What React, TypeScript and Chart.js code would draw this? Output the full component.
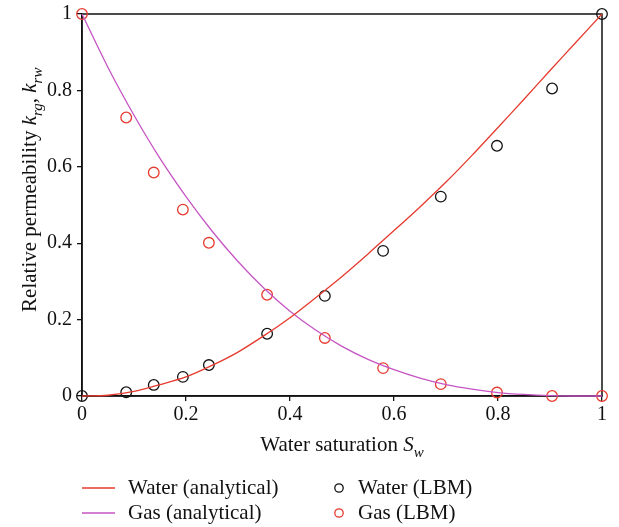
import React, { useEffect, useRef } from "react";
import { Chart, registerables } from "chart.js";

Chart.register(...registerables);

// Analytical relative-permeability curves, sampled along water saturation
const curveSaturation = [0, 0.05, 0.1, 0.15, 0.2, 0.25, 0.3, 0.35, 0.4, 0.45, 0.5, 0.55, 0.6, 0.65, 0.7, 0.75, 0.8, 0.85, 0.9, 0.95, 1];
const waterAnalytical = [0, 0.002, 0.012, 0.03, 0.05, 0.08, 0.115, 0.158, 0.205, 0.258, 0.313, 0.372, 0.433, 0.495, 0.56, 0.63, 0.703, 0.777, 0.852, 0.926, 1];
const gasAnalytical = [1, 0.86, 0.735, 0.622, 0.522, 0.432, 0.352, 0.282, 0.222, 0.172, 0.13, 0.096, 0.069, 0.047, 0.03, 0.018, 0.009, 0.004, 0.001, 0, 0];

// Lattice Boltzmann simulation results
const lbmSaturation = [0, 0.085, 0.138, 0.194, 0.244, 0.356, 0.467, 0.579, 0.69, 0.798, 0.904, 1];
const waterLbm = [0, 0.01, 0.029, 0.05, 0.081, 0.163, 0.262, 0.38, 0.522, 0.655, 0.805, 1];
const gasLbm = [1, 0.729, 0.585, 0.488, 0.401, 0.265, 0.152, 0.073, 0.031, 0.009, 0, 0];

const axisTicks = [0, 0.2, 0.4, 0.6, 0.8, 1];

const RED = "#e63a2e";
const MAGENTA = "#c655c3";
const BLACK = "#111111";
const SERIF = '"Liberation Serif", "DejaVu Serif", serif';
const TICK_SIZE = 20;
const TEXT_SIZE = 21;

type Seg = { t: string; it?: boolean; sub?: boolean };

function segFont(s: Seg, size: number) {
  const px = s.sub ? Math.round(size * 0.72) : size;
  return `${s.it ? "italic " : ""}${px}px ${SERIF}`;
}

// Draws a run of text pieces (italic / subscript aware), centred on x
function drawRich(ctx: CanvasRenderingContext2D, segs: Seg[], x: number, y: number, size: number) {
  let total = 0;
  for (const s of segs) {
    ctx.font = segFont(s, size);
    total += ctx.measureText(s.t).width;
  }
  let cx = x - total / 2;
  ctx.textAlign = "left";
  ctx.textBaseline = "alphabetic";
  for (const s of segs) {
    ctx.font = segFont(s, size);
    ctx.fillText(s.t, cx, s.sub ? y + size * 0.28 : y);
    cx += ctx.measureText(s.t).width;
  }
}

const framePlugin = {
  id: "frame",
  beforeDatasetsDraw(chart: any) {
    const { ctx, chartArea: a } = chart;
    ctx.save();
    ctx.strokeStyle = BLACK;
    ctx.lineWidth = 1.5;
    ctx.strokeRect(a.left, a.top, a.right - a.left, a.bottom - a.top);
    ctx.restore();
  },
};

const titlesPlugin = {
  id: "titles",
  afterDraw(chart: any) {
    const { ctx, chartArea: a } = chart;
    ctx.save();
    ctx.fillStyle = BLACK;
    drawRich(
      ctx,
      [{ t: "Water saturation " }, { t: "S", it: true }, { t: "w", it: true, sub: true }],
      (a.left + a.right) / 2,
      a.bottom + 55,
      TEXT_SIZE
    );
    ctx.translate(36, a.top + (a.bottom - a.top) * 0.46);
    ctx.rotate(-Math.PI / 2);
    drawRich(
      ctx,
      [
        { t: "Relative permeability " },
        { t: "k", it: true },
        { t: "rg", it: true, sub: true },
        { t: ", " },
        { t: "k", it: true },
        { t: "rw", it: true, sub: true },
      ],
      0,
      0,
      TEXT_SIZE
    );
    ctx.restore();
  },
};

const legendPlugin = {
  id: "twoColumnLegend",
  afterDraw(chart: any) {
    const { ctx } = chart;
    ctx.save();
    ctx.font = `${TEXT_SIZE}px ${SERIF}`;
    ctx.textBaseline = "middle";
    ctx.textAlign = "left";
    chart.data.datasets.forEach((ds: any, i: number) => {
      const row = i % 2;
      const y = 488 + row * 25;
      if (ds.showLine) {
        ctx.strokeStyle = ds.borderColor;
        ctx.lineWidth = 1.4;
        ctx.beginPath();
        ctx.moveTo(82, y);
        ctx.lineTo(115, y);
        ctx.stroke();
        ctx.fillStyle = BLACK;
        ctx.fillText(ds.label, 128, y);
      } else {
        ctx.strokeStyle = ds.pointBorderColor;
        ctx.lineWidth = 1.3;
        ctx.beginPath();
        ctx.arc(339, y, 4.2, 0, Math.PI * 2);
        ctx.stroke();
        ctx.fillStyle = BLACK;
        ctx.fillText(ds.label, 358, y);
      }
    });
    ctx.restore();
  },
};

const toPoints = (xs: number[], ys: number[]) => xs.map((x, i) => ({ x, y: ys[i] }));

const tickLabel = (v: any) => {
  const n = Number(v);
  return n === 0 ? "0" : n === 1 ? "1" : n.toFixed(1);
};

export default function App() {
  const canvasRef = useRef<HTMLCanvasElement | null>(null);

  useEffect(() => {
    if (!canvasRef.current) return;
    const axisCommon = {
      type: "linear" as const,
      min: 0,
      max: 1,
      afterBuildTicks: (scale: any) => {
        scale.ticks = axisTicks.map((value) => ({ value }));
      },
      grid: {
        display: true,
        drawOnChartArea: false,
        drawTicks: true,
        tickLength: 5,
        color: BLACK,
        lineWidth: 1.3,
      },
      border: { display: true, color: BLACK, width: 1.5 },
      ticks: {
        color: BLACK,
        font: { family: SERIF, size: TICK_SIZE },
        callback: tickLabel,
        maxRotation: 0,
        autoSkip: false,
      },
    };

    const chart = new Chart(canvasRef.current, {
      type: "scatter",
      data: {
        datasets: [
          {
            label: "Water (analytical)",
            data: toPoints(curveSaturation, waterAnalytical),
            showLine: true,
            borderColor: RED,
            borderWidth: 1.3,
            pointRadius: 0,
            tension: 0.3,
          },
          {
            label: "Gas (analytical)",
            data: toPoints(curveSaturation, gasAnalytical),
            showLine: true,
            borderColor: MAGENTA,
            borderWidth: 1.3,
            pointRadius: 0,
            tension: 0.3,
          },
          {
            label: "Water (LBM)",
            data: toPoints(lbmSaturation, waterLbm),
            showLine: false,
            pointRadius: 5.3,
            pointBorderWidth: 1.3,
            pointBorderColor: BLACK,
            pointBackgroundColor: "rgba(0,0,0,0)",
          },
          {
            label: "Gas (LBM)",
            data: toPoints(lbmSaturation, gasLbm),
            showLine: false,
            pointRadius: 5.3,
            pointBorderWidth: 1.3,
            pointBorderColor: RED,
            pointBackgroundColor: "rgba(0,0,0,0)",
          },
        ] as any,
      },
      options: {
        responsive: false,
        animation: false,
        clip: false as any,
        layout: { padding: { left: 0, right: 17, top: 14, bottom: 0 } },
        plugins: {
          legend: { display: false },
          tooltip: { enabled: false },
        },
        scales: {
          x: {
            ...axisCommon,
            ticks: { ...axisCommon.ticks, padding: 2 },
            afterFit: (scale: any) => {
              scale.height = 131;
              scale.paddingLeft = 0;
              scale.paddingRight = 0;
            },
          },
          y: {
            ...axisCommon,
            ticks: { ...axisCommon.ticks, padding: 5 },
            afterFit: (scale: any) => {
              scale.width = 82;
              scale.paddingTop = 0;
              scale.paddingBottom = 0;
            },
          },
        } as any,
      },
      plugins: [framePlugin, titlesPlugin, legendPlugin],
    });

    return () => chart.destroy();
  }, []);

  return (
    <div style={{ position: "absolute", left: 0, top: 0, width: 619, height: 527, background: "#fff" }}>
      <canvas ref={canvasRef} width={619} height={527} />
    </div>
  );
}
